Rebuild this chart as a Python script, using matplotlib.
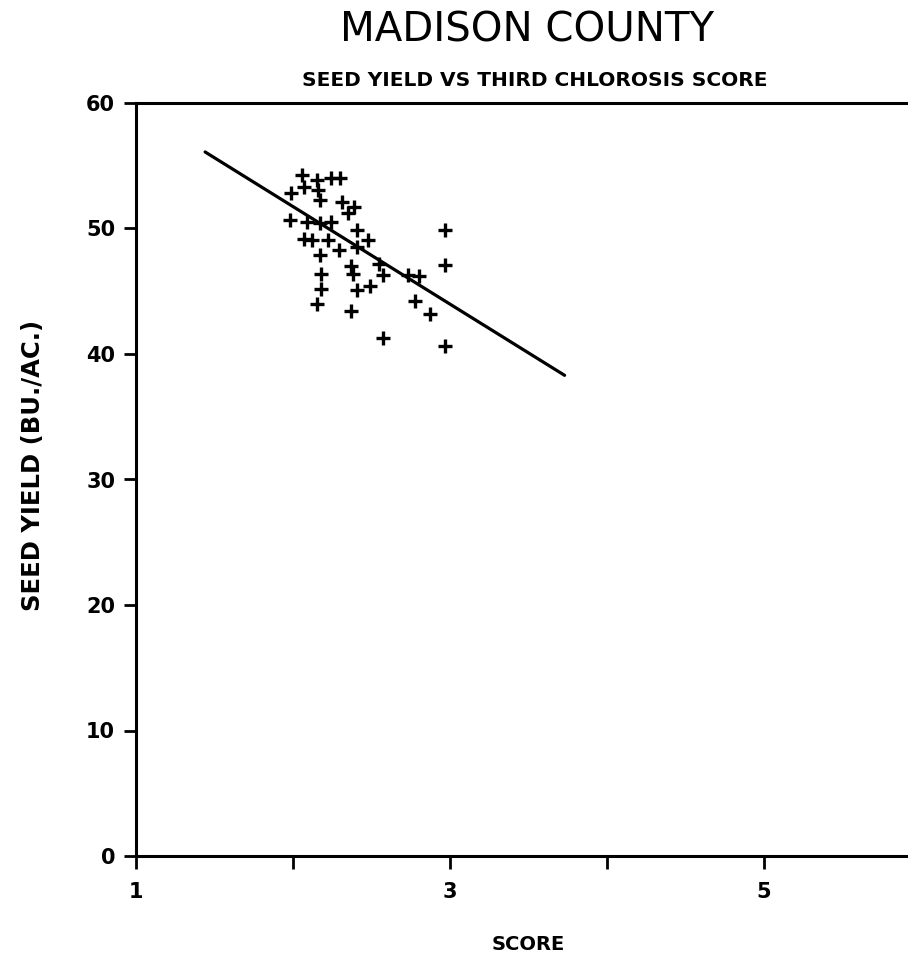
import matplotlib
matplotlib.use("Agg")
import matplotlib.pyplot as plt

# Data
score = [2.06, 2.07, 1.99, 2.15, 2.16, 2.24, 2.30, 2.17, 2.31, 2.39, 2.35,
         1.98, 2.09, 2.17, 2.24, 2.07, 2.12, 2.22, 2.29, 2.41, 2.48, 2.41,
         2.17, 2.18, 2.18, 2.15, 2.37, 2.37, 2.38, 2.41, 2.49, 2.55, 2.575,
         2.575, 2.73, 2.80, 2.78, 2.87, 2.97, 2.97, 2.97]
yield_bu = [54.3, 53.3, 52.8, 53.9, 53.1, 54.0, 54.0, 52.3, 52.1, 51.7, 51.2,
            50.7, 50.5, 50.4, 50.5, 49.2, 49.1, 49.1, 48.3, 49.9, 49.1, 48.5,
            47.9, 46.4, 45.2, 44.0, 43.4, 47.0, 46.4, 45.1, 45.4, 47.2, 46.3,
            41.3, 46.3, 46.2, 44.2, 43.2, 49.9, 47.1, 40.6]
fit_x = [1.44, 3.73]
fit_y = [56.1, 38.3]

x_ticks = [1, 2, 3, 4, 5]
x_ticklabels = ["1", "", "3", "", "5"]
y_ticks = [0, 10, 20, 30, 40, 50, 60]

title = "MADISON COUNTY"
subtitle = "SEED YIELD VS THIRD CHLOROSIS SCORE"
xlabel = "SCORE"
ylabel = "SEED YIELD (BU./AC.)"

W, H = 908, 955
fig = plt.figure(figsize=(W / 100, H / 100), dpi=100)
left, right, bottom, top = 136 / W, 1.0, 1 - 856 / H, 1 - 103 / H
ax = fig.add_axes([left, bottom, right - left, top - bottom])

ax.plot(fit_x, fit_y, color="black", lw=2.3, solid_capstyle="round")
ax.plot(score, yield_bu, linestyle="none", marker="+", ms=10, mew=2.4, color="black")

ax.set_xlim(1, 1 + (W - 136) / 157)
ax.set_ylim(0, 60)
ax.set_xticks(x_ticks)
ax.set_xticklabels(x_ticklabels)
ax.set_yticks(y_ticks)
for s in ["left", "bottom", "top"]:
    ax.spines[s].set_linewidth(2.2)
ax.spines["right"].set_visible(False)
ax.tick_params(axis="both", direction="out", width=2.0, length=9, labelsize=15, pad=6)
for lab in ax.get_xticklabels() + ax.get_yticklabels():
    lab.set_fontweight("bold")
ax.tick_params(axis="x", pad=10)

fig.text(528 / W, 1 - 944 / H, xlabel, ha="center", va="center",
         fontsize=14, fontweight="bold")
fig.text(33 / W, 1 - 465 / H, ylabel, rotation=90, ha="center", va="center",
         fontsize=17.5, fontweight="bold")

fig.text(527 / W, 1 - 30 / H, title, ha="center", va="center", fontsize=29)
fig.text(535 / W, 1 - 81 / H, subtitle, ha="center", va="center", fontsize=14.5, fontweight="bold")

fig.savefig("out.png", dpi=100)
